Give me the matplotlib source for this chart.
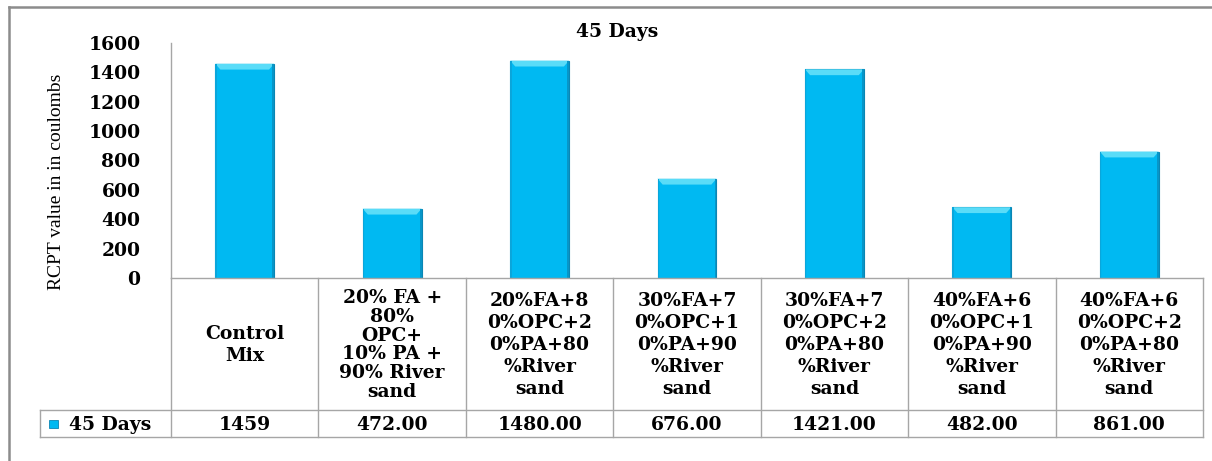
import matplotlib

matplotlib.use("Agg")
import matplotlib.pyplot as plt
from matplotlib.patches import Polygon, Rectangle
from matplotlib.lines import Line2D

# RCPT results after 45 days of curing
mixes = [
    "Control\nMix",
    "20% FA +\n80%\nOPC+\n10% PA +\n90% River\nsand",
    "20%FA+8\n0%OPC+2\n0%PA+80\n%River\nsand",
    "30%FA+7\n0%OPC+1\n0%PA+90\n%River\nsand",
    "30%FA+7\n0%OPC+2\n0%PA+80\n%River\nsand",
    "40%FA+6\n0%OPC+1\n0%PA+90\n%River\nsand",
    "40%FA+6\n0%OPC+2\n0%PA+80\n%River\nsand",
]
rcpt_45 = [1459, 472, 1480, 676, 1421, 482, 861]
value_labels = ["1459", "472.00", "1480.00", "676.00", "1421.00", "482.00", "861.00"]
series_name = "45 Days"
y_ticks = [0, 200, 400, 600, 800, 1000, 1200, 1400, 1600]

W, H = 1212, 461
BAR = "#00B9F2"
BAR_TOP = "#5ADCF8"
BAR_EDGE = "#0A86B4"
GRID = "#A6A6A6"
SERIF_B = dict(family="DejaVu Serif", weight="bold")


def px(x, y):
    """Pixel position (from top-left) to figure fraction."""
    return x / W, 1 - y / H


fig = plt.figure(figsize=(W / 100, H / 100), dpi=100)

# plot area: x 171..1203 px, y 43..278 px
x0, x1, ytop, ybot = 171, 1203, 43, 278
ax = fig.add_axes([x0 / W, 1 - ybot / H, (x1 - x0) / W, (ybot - ytop) / H])

n = len(rcpt_45)
xs = list(range(n))
bw = 0.4
ax.bar(xs, rcpt_45, width=bw, color=BAR, edgecolor=BAR_EDGE, linewidth=0.8, zorder=3)

# bevel highlight on the top of each bar
band = 40  # data units (~6 px)
inset = 0.035
for x, v in zip(xs, rcpt_45):
    left, right = x - bw / 2, x + bw / 2
    top = Polygon(
        [(left, v), (right, v), (right - inset, v - band), (left + inset, v - band)],
        closed=True, facecolor=BAR_TOP, edgecolor="none", zorder=4,
    )
    ax.add_patch(top)
    ax.add_patch(Rectangle((right - 0.012, 0), 0.012, v, facecolor="#0796C8",
                           edgecolor="none", zorder=4))
    ax.add_patch(Rectangle((left, 0), 0.01, v, facecolor="#0AA6DB",
                           edgecolor="none", zorder=4))

ax.set_xlim(-0.5, n - 0.5)
ax.set_ylim(0, 1600)
ax.set_yticks(y_ticks)
ax.set_yticklabels([str(t) for t in y_ticks], fontsize=13.5, **SERIF_B)
ax.tick_params(axis="y", length=0, pad=22)
ax.set_xticks([])
for side in ("top", "right", "bottom"):
    ax.spines[side].set_visible(False)
ax.spines["left"].set_color(GRID)
ax.spines["left"].set_linewidth(1.0)

# y-axis title
fig.text(*px(57, 182), "RCPT value in in coulombs", rotation=90, ha="center",
         va="center", fontsize=14, family="Liberation Serif")

# chart title
fig.text(*px(617, 32), series_name, ha="center", va="center", fontsize=13.5, **SERIF_B)

# data table under the chart
row1_top, row1_bot, row2_bot = 278, 410, 437
legend_left = 40
colw = (x1 - x0) / n


def hline(y, xa, xb):
    fig.add_artist(Line2D([xa / W, xb / W], [1 - y / H, 1 - y / H], color=GRID, lw=1.0))


def vline(x, ya, yb):
    fig.add_artist(Line2D([x / W, x / W], [1 - ya / H, 1 - yb / H], color=GRID, lw=1.0))


hline(row1_top, x0, x1)
hline(row1_bot, legend_left, x1)
hline(row2_bot, legend_left, x1)
vline(legend_left, row1_bot, row2_bot)
for i in range(n + 1):
    vline(x0 + i * colw, row1_top, row2_bot)

for i, (lab, val) in enumerate(zip(mixes, value_labels)):
    cx = x0 + (i + 0.5) * colw
    nlines = lab.count("\n") + 1
    ls = 1.07 if nlines > 5 else 1.28
    fig.text(*px(cx, (row1_top + row1_bot) / 2 + 1), lab, ha="center", va="center",
             fontsize=13.5, linespacing=ls, **SERIF_B)
    fig.text(*px(cx, (row1_bot + row2_bot) / 2 + 1), val, ha="center", va="center",
             fontsize=13.5, **SERIF_B)

# legend key in the table
ky = (row1_bot + row2_bot) / 2
fig.add_artist(Rectangle(px(49, ky + 4), 9 / W, 8 / H, facecolor=BAR,
                         edgecolor=BAR_EDGE, lw=0.6))
fig.text(*px(69, ky + 1), series_name, ha="left", va="center", fontsize=13.5, **SERIF_B)

# outer chart border (top and left edges are inside the canvas)
fig.add_artist(Line2D([9 / W, 1.0], [1 - 7 / H, 1 - 7 / H], color="#8C8C8C", lw=1.8))
fig.add_artist(Line2D([9 / W, 9 / W], [1 - 7 / H, 0.0], color="#8C8C8C", lw=1.8))

fig.savefig("out.png", dpi=100)
